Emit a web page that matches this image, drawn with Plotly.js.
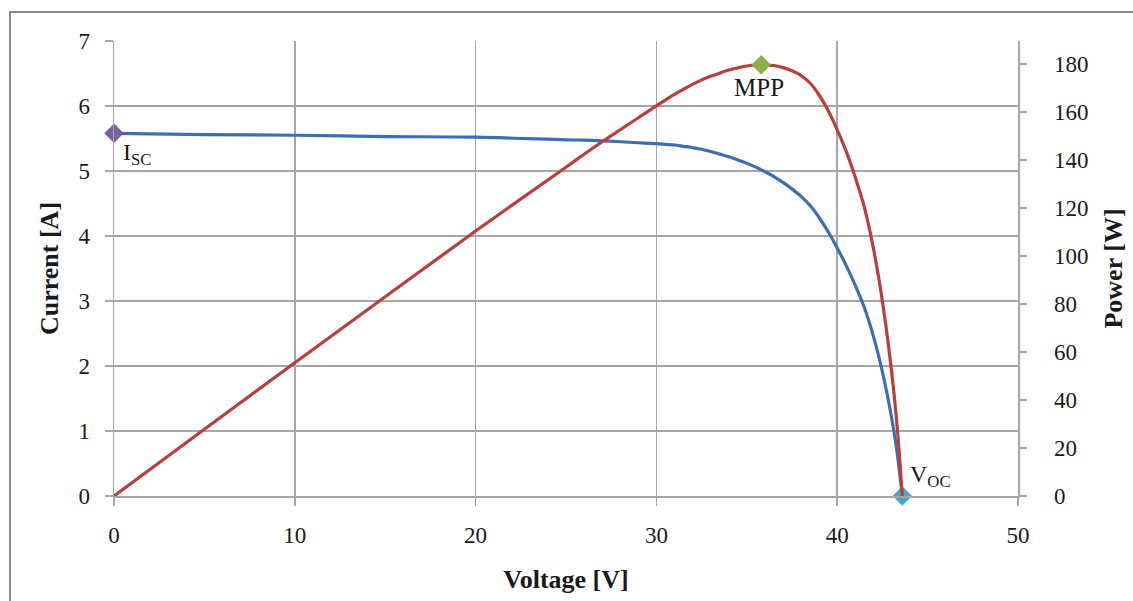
<!DOCTYPE html>
<html>
<head>
<meta charset="utf-8">
<script src="https://cdn.plot.ly/plotly-3.0.1.min.js"></script>
<style>
html,body{margin:0;padding:0;background:#fff;overflow:hidden;}
#frame{position:absolute;left:9px;top:11px;width:1200px;height:700px;border-left:2px solid #8a8a8a;border-top:2px solid #8a8a8a;box-sizing:border-box;pointer-events:none;z-index:5;}
#chart{position:absolute;left:0;top:0;width:1133px;height:601px;}
</style>
</head>
<body>
<div id="chart"></div>
<div id="frame"></div>
<script>
// Voltage [V] sample points
const voltage = [0, 5, 10, 15, 20, 25, 26, 27, 28, 29, 30, 30.5, 31, 31.5, 32, 32.5, 33, 33.5, 34, 34.5, 35, 35.5, 36, 36.5, 37, 37.5, 38, 38.5, 39, 39.5, 40, 40.5, 41, 41.5, 42, 42.5, 43, 43.3, 43.6];
// Current [A]
const current = [5.58, 5.56, 5.55, 5.53, 5.52, 5.48, 5.475, 5.465, 5.45, 5.435, 5.42, 5.41, 5.40, 5.38, 5.36, 5.335, 5.30, 5.26, 5.22, 5.17, 5.12, 5.06, 4.99, 4.915, 4.825, 4.725, 4.61, 4.47, 4.285, 4.065, 3.815, 3.545, 3.24, 2.90, 2.46, 1.91, 1.22, 0.70, 0];
// Power [W]
const power = [0, 27.8, 55.5, 83, 110.4, 137, 142.4, 147.6, 152.6, 157.6, 162.6, 165.0, 167.4, 169.5, 171.5, 173.4, 174.9, 176.2, 177.5, 178.4, 179.2, 179.6, 179.6, 179.4, 178.5, 177.2, 175.2, 172.1, 167.1, 160.6, 152.6, 143.6, 132.8, 120.4, 103.3, 81.2, 52.5, 30.3, 0];

// Special points
const iscPoint = {v: 0, i: 5.58};
const mppPoint = {v: 35.8, p: 179.7};
const vocPoint = {v: 43.6, i: 0};

const xTicks = [0, 10, 20, 30, 40, 50];
const yTicks = [0, 1, 2, 3, 4, 5, 6, 7];
const y2Ticks = [0, 20, 40, 60, 80, 100, 120, 140, 160, 180];

const serif = "Liberation Serif, Times New Roman, serif";
const gridColor = "#a6a6a6";
const textColor = "#1a1a1a";

const traces = [
  {x: voltage, y: current, type: "scatter", mode: "lines", yaxis: "y",
   line: {color: "#3c6eb4", width: 3.2, shape: "spline", smoothing: 1}, hoverinfo: "skip"},
  {x: voltage, y: power, type: "scatter", mode: "lines", yaxis: "y2",
   line: {color: "#b83f3c", width: 3.2, shape: "spline", smoothing: 1}, hoverinfo: "skip"},
  {x: [iscPoint.v], y: [iscPoint.i], type: "scatter", mode: "markers", yaxis: "y", cliponaxis: false,
   marker: {symbol: "diamond", size: 15, color: "#7b5ea6"}},
  {x: [mppPoint.v], y: [mppPoint.p], type: "scatter", mode: "markers", yaxis: "y2", cliponaxis: false,
   marker: {symbol: "diamond", size: 15, color: "#88b04b"}},
  {x: [vocPoint.v], y: [vocPoint.i], type: "scatter", mode: "markers", yaxis: "y", cliponaxis: false,
   marker: {symbol: "diamond", size: 15, color: "#45a9c4"}}
];

const layout = {
  width: 1133, height: 601,
  margin: {l: 114, r: 115, t: 41, b: 105, pad: 0},
  paper_bgcolor: "#ffffff", plot_bgcolor: "#ffffff",
  showlegend: false,
  font: {family: serif, size: 23, color: textColor},
  xaxis: {
    range: [0, 50], tickvals: xTicks, ticktext: xTicks.map(String),
    showgrid: true, gridcolor: gridColor, gridwidth: 1.5,
    showline: true, linecolor: gridColor, linewidth: 1.5,
    ticks: "outside", ticklen: 8, tickcolor: gridColor, tickwidth: 1.5,
    ticklabelstandoff: 10,
    zeroline: false, fixedrange: true,
    tickfont: {family: serif, size: 23, color: textColor},
    title: {text: "<b>Voltage [V]</b>", font: {family: serif, size: 26, color: textColor}, standoff: 22}
  },
  yaxis: {
    range: [0, 7], tickvals: yTicks, ticktext: yTicks.map(String),
    showgrid: true, gridcolor: gridColor, gridwidth: 1.5,
    showline: true, linecolor: gridColor, linewidth: 1.5,
    ticks: "outside", ticklen: 8, tickcolor: gridColor, tickwidth: 1.5,
    ticklabelstandoff: 10,
    zeroline: false, fixedrange: true,
    tickfont: {family: serif, size: 23, color: textColor},
    title: {text: "<b>Current [A]</b>", font: {family: serif, size: 26, color: textColor}, standoff: 12}
  },
  yaxis2: {
    overlaying: "y", side: "right",
    range: [0, 189.6], tickvals: y2Ticks, ticktext: y2Ticks.map(String),
    showgrid: false,
    showline: true, linecolor: gridColor, linewidth: 1.5,
    ticks: "outside", ticklen: 7, tickcolor: gridColor, tickwidth: 1.5,
    ticklabelstandoff: 23,
    zeroline: false, fixedrange: true,
    tickfont: {family: serif, size: 23, color: textColor},
    title: {text: "<b>Power [W]</b>", font: {family: serif, size: 26, color: textColor}, standoff: 16}
  },
  annotations: [
    {x: iscPoint.v, y: iscPoint.i, xref: "x", yref: "y", text: "I<sub>SC</sub>", showarrow: false,
     xanchor: "left", yanchor: "top", xshift: 7, yshift: -4,
     font: {family: serif, size: 24, color: textColor}},
    {x: mppPoint.v, y: mppPoint.p, xref: "x", yref: "y2", text: "MPP", showarrow: false,
     xanchor: "center", yanchor: "top", xshift: -2, yshift: -7,
     font: {family: serif, size: 25, color: textColor}},
    {x: vocPoint.v, y: vocPoint.i, xref: "x", yref: "y", text: "V<sub>OC</sub>", showarrow: false,
     xanchor: "left", yanchor: "bottom", xshift: 6, yshift: 3,
     font: {family: serif, size: 24, color: textColor}}
  ]
};

Plotly.newPlot("chart", traces, layout, {displayModeBar: false, staticPlot: true});
</script>
</body>
</html>
